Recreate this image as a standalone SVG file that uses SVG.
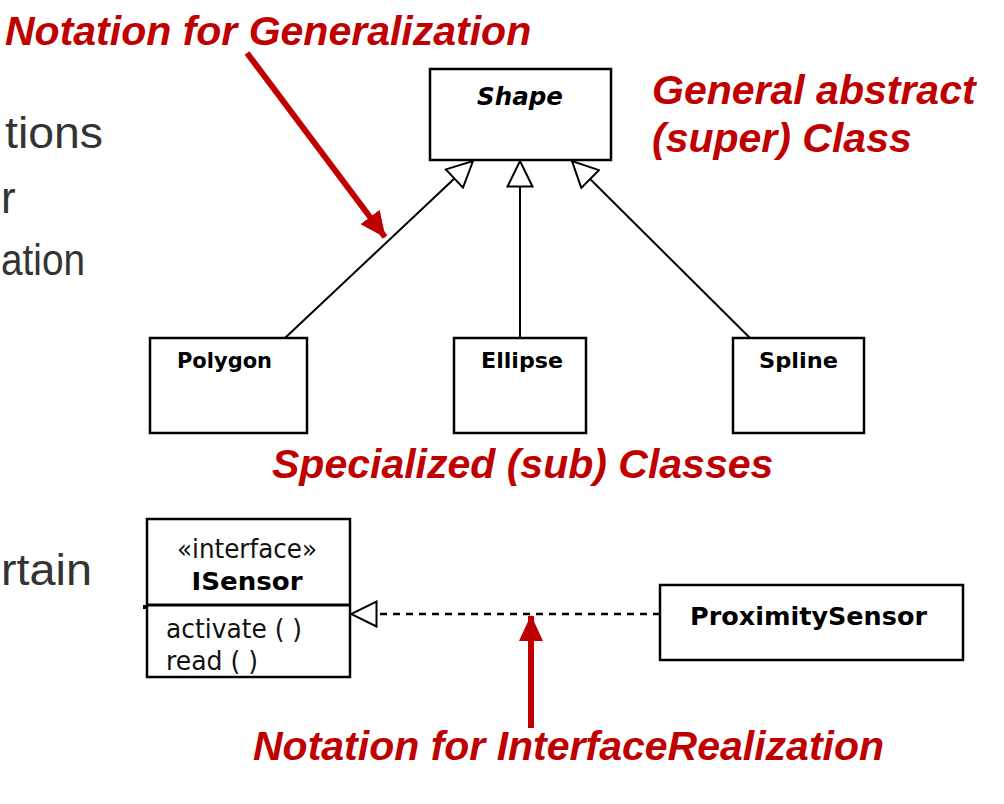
<svg xmlns="http://www.w3.org/2000/svg" width="1004" height="804" viewBox="0 0 1004 804">
<style>
.box{fill:#fff;stroke:#000;stroke-width:2.5}
.cn{fill:#000;font-family:"DejaVu Sans","Liberation Sans",sans-serif;font-weight:bold}
.reg{fill:#111;font-family:"DejaVu Sans Condensed","DejaVu Sans","Liberation Sans",sans-serif}
.red{fill:#C00000;font-family:"Liberation Sans",Arial,sans-serif;font-weight:bold;font-style:italic;font-size:41px}
.gray{fill:#333;font-family:"Liberation Sans",Arial,sans-serif;font-size:44px}
.gen{stroke:#000;stroke-width:2;fill:none;marker-end:url(#tri)}
.real{stroke:#000;stroke-width:2.5;fill:none;stroke-dasharray:7 6;marker-end:url(#tri)}
.rarrow{stroke:#C00000;stroke-width:6;fill:none;marker-end:url(#redhead)}
</style>
<defs>
<marker id="tri" markerUnits="userSpaceOnUse" viewBox="0 0 28 28" refX="27" refY="14" markerWidth="28" markerHeight="28" orient="auto">
<path d="M1.5,1.5 L27,14 L1.5,26.5 Z" fill="#fff" stroke="#000" stroke-width="2"/>
</marker>
<marker id="redhead" markerUnits="userSpaceOnUse" viewBox="0 0 26 24" refX="25" refY="12" markerWidth="26" markerHeight="24" orient="auto">
<path d="M0,0 L26,12 L0,24 Z" fill="#C00000"/>
</marker>
</defs>
<rect width="1004" height="804" fill="#fff"/>

<g id="slide-text">
<text class="gray" x="5" y="148" textLength="98" lengthAdjust="spacingAndGlyphs">tions</text>
<text class="gray" x="1" y="213">r</text>
<text class="gray" x="1" y="275" textLength="84" lengthAdjust="spacingAndGlyphs">ation</text>
<text class="gray" x="1" y="585" textLength="91" lengthAdjust="spacingAndGlyphs">rtain</text>
</g>

<g id="connectors">
<line class="gen" x1="285" y1="338" x2="473" y2="161"/>
<line class="gen" x1="520" y1="338" x2="520" y2="161"/>
<line class="gen" x1="750" y1="338" x2="572" y2="161"/>
<line class="real" x1="660" y1="614" x2="351" y2="614"/>
</g>

<g id="Shape">
<rect class="box" x="430" y="69" width="181" height="91"/>
<text class="cn" x="520" y="105" font-size="24" font-style="italic" text-anchor="middle" textLength="86" lengthAdjust="spacingAndGlyphs">Shape</text>
</g>
<g id="Polygon">
<rect class="box" x="150" y="338" width="157" height="95"/>
<text class="cn" x="177" y="368" font-size="21" textLength="95" lengthAdjust="spacingAndGlyphs">Polygon</text>
</g>
<g id="Ellipse">
<rect class="box" x="454" y="338" width="132" height="95"/>
<text class="cn" x="481" y="368" font-size="21" textLength="82" lengthAdjust="spacingAndGlyphs">Ellipse</text>
</g>
<g id="Spline">
<rect class="box" x="733" y="338" width="131" height="95"/>
<text class="cn" x="759" y="368" font-size="21" textLength="79" lengthAdjust="spacingAndGlyphs">Spline</text>
</g>

<g id="ISensor">
<rect class="box" x="147" y="519" width="203" height="158"/>
<line x1="147" y1="605" x2="350" y2="605" stroke="#000" stroke-width="3"/>
<line x1="143" y1="607" x2="147" y2="607" stroke="#000" stroke-width="4"/>
<text class="reg" x="247" y="558" font-size="26" text-anchor="middle" textLength="140" lengthAdjust="spacingAndGlyphs">«interface»</text>
<text class="cn" x="247" y="590" font-size="25" text-anchor="middle" textLength="111" lengthAdjust="spacingAndGlyphs">ISensor</text>
<text class="reg" x="166" y="638" font-size="26" textLength="136" lengthAdjust="spacingAndGlyphs">activate ( )</text>
<text class="reg" x="166" y="670" font-size="26" textLength="92" lengthAdjust="spacingAndGlyphs">read ( )</text>
</g>

<g id="ProximitySensor">
<rect class="box" x="660" y="585" width="303" height="75"/>
<text class="cn" x="690" y="625" font-size="25.5" textLength="237" lengthAdjust="spacingAndGlyphs">ProximitySensor</text>
</g>

<g id="annotations">
<line class="rarrow" x1="247" y1="53" x2="385" y2="237"/>
<line class="rarrow" x1="531" y1="728" x2="531" y2="616"/>
<text class="red" x="5" y="45">Notation for Generalization</text>
<text class="red" x="652" y="104">General abstract</text>
<text class="red" x="652" y="152">(super) Class</text>
<text class="red" x="272" y="478">Specialized (sub) Classes</text>
<text class="red" x="253" y="760">Notation for InterfaceRealization</text>
</g>
</svg>
